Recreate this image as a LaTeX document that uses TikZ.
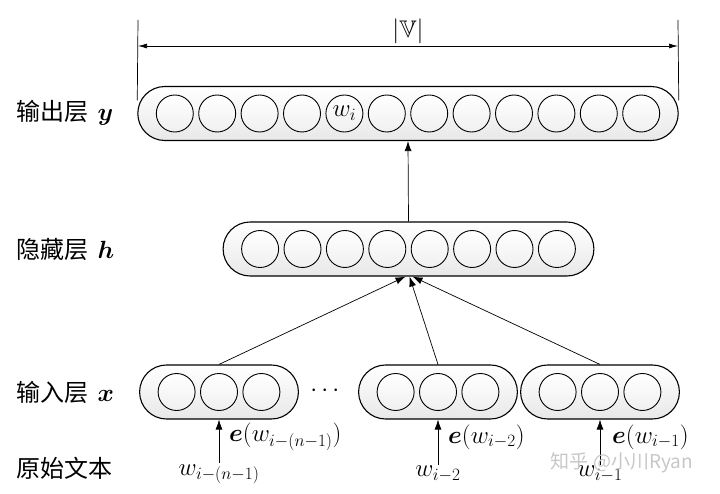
\documentclass[tikz,border=0pt]{standalone}
\usepackage{amsmath,amssymb,bm}
\usepackage{fontspec}
\newfontfamily\cjk{Noto Sans CJK SC}
\usetikzlibrary{arrows.meta,calc}
\begin{document}
\begin{tikzpicture}[x=1pt,y=-1pt,
  every node/.style={font=\fontsize{24}{28}\selectfont},
  capsule/.style={draw, line width=1.1pt, rounded corners=27pt, minimum height=54pt,
    top color=white, bottom color=black!9, inner sep=0pt},
  unit/.style={draw, circle, line width=0.9pt, minimum size=37pt, inner sep=0pt,
    top color=white, bottom color=black!6},
  conn/.style={line width=0.7pt, -{Latex[length=10pt,width=7pt]}},
  lab/.style={anchor=west, inner sep=0pt},
  wm/.style={text=black!22, font=\fontsize{19}{22}\selectfont\cjk}]
\useasboundingbox (0,0) rectangle (720,494);

% output layer
\node[capsule, minimum width=540.4pt] (out) at (408,113.5) {};
\foreach \k in {0,...,11} {
  \node[unit] (o\k) at ({408+42.4*(\k-5.5)},113.5) {};
}
\node at (o4) {$w_i$};

% hidden layer
\node[capsule, minimum width=370.8pt] (hid) at (408.5,249) {};
\foreach \k in {0,...,7} {
  \node[unit] (h\k) at ({408.5+42.4*(\k-3.5)},249) {};
}

% input layer
\foreach \c/\n in {219/1,438/2,600/3} {
  \node[capsule, minimum width=158.8pt] (in\n) at (\c,392) {};
  \foreach \k in {0,1,2} {
    \node[unit] (i\n\k) at ({\c+42.4*(\k-1)},392) {};
  }
}
\node (dots) at (327,391) {$\cdots$};

% dimension line
\coordinate (vl) at (138,20);
\coordinate (vr) at (678,20);
\coordinate (al) at (138,46);
\coordinate (ar) at (678,46);
\draw[line width=0.7pt] (vl) -- ([yshift=13pt]out.west);
\draw[line width=0.7pt] (vr) -- ([yshift=13pt]out.east);
\draw[line width=0.7pt, {Latex[length=9pt,width=5pt]}-{Latex[length=9pt,width=5pt]}] (al) -- (ar);
\node (V) at (408,31) {$|\mathbb{V}|$};

% connections
\draw[conn] (hid.north) -- (out.south);
\draw[conn] (in1.north) -- ([xshift=-3pt]hid.south);
\draw[conn] (in2.north) -- ([xshift=1pt]hid.south);
\draw[conn] (in3.north) -- ([xshift=4pt]hid.south);

% raw words
\node (w1) at (219,474) {$w_{i-(n-1)}$};
\node (w2) at (438,474) {$w_{i-2}$};
\node (w3) at (600,474) {$w_{i-1}$};
\draw[conn] ([yshift=-2pt]w1.north) -- (in1.south);
\draw[conn] ([yshift=-2pt]w2.north) -- (in2.south);
\draw[conn] ([yshift=-2pt]w3.north) -- (in3.south);
\node[lab] (e1) at (229,437) {$\bm{e}(w_{i-(n-1)})$};
\node[lab] (e2) at (448,437) {$\bm{e}(w_{i-2})$};
\node[lab] (e3) at (612,437) {$\bm{e}(w_{i-1})$};

% layer labels
\node[lab] (ly) at (16,113) {\cjk 输出层\ \,$\bm{y}$};
\node[lab] (lh) at (16,249) {\cjk 隐藏层\ \,$\bm{h}$};
\node[lab] (lx) at (16,392) {\cjk 输入层\ \,$\bm{x}$};
\node[lab] (lt) at (16,468) {\cjk 原始文本};

% watermark
\node[wm] (mark) at (622,463) {知乎 @小川Ryan};
\end{tikzpicture}
\end{document}
